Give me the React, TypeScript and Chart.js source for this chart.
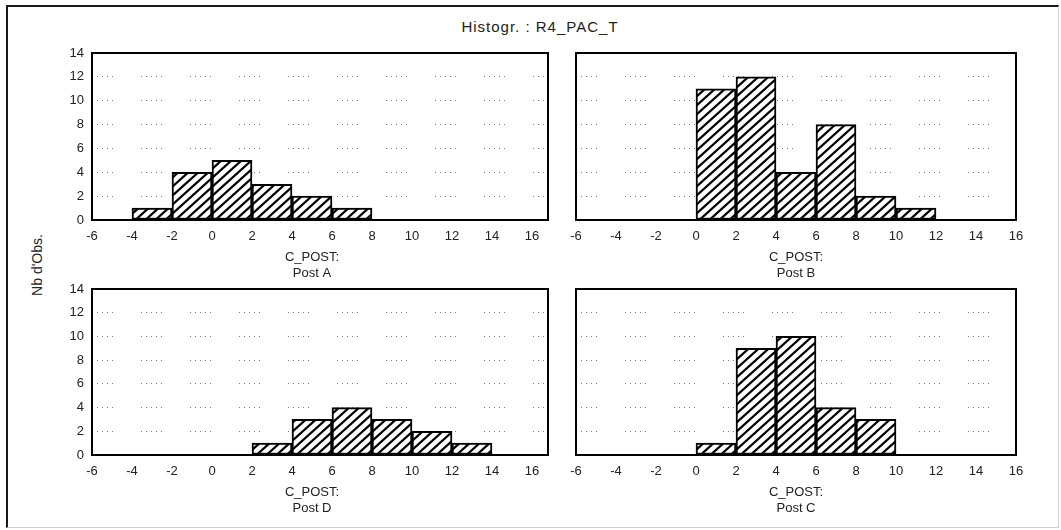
import React, { useEffect, useRef } from "react";
import { Chart, registerables } from "chart.js";

Chart.register(...registerables);

// ---------- data ----------
const CHART_TITLE = "Histogr. : R4_PAC_T";
const Y_AXIS_LABEL = "Nb d'Obs.";
const X_VARIABLE = "C_POST:";
const X_TICKS = [-6, -4, -2, 0, 2, 4, 6, 8, 10, 12, 14, 16];
const Y_TICKS = [0, 2, 4, 6, 8, 10, 12, 14];
const BIN_WIDTH = 2;

const POST_A_BINS = [-4, -2, 0, 2, 4, 6];
const POST_A_COUNTS = [1, 4, 5, 3, 2, 1];
const POST_B_BINS = [0, 2, 4, 6, 8, 10];
const POST_B_COUNTS = [11, 12, 4, 8, 2, 1];
const POST_D_BINS = [2, 4, 6, 8, 10, 12];
const POST_D_COUNTS = [1, 3, 4, 3, 2, 1];
const POST_C_BINS = [0, 2, 4, 6, 8];
const POST_C_COUNTS = [1, 9, 10, 4, 3];

// ---------- layout / style ----------
const FONT = '"Liberation Sans", Arial, sans-serif';
const YW = 50; // y-axis width
const PT = 10; // top padding
const PR = 14; // right padding
const XH = 61; // x-axis height (ticks + title)

type PanelDef = {
  name: string;
  bins: number[];
  counts: number[];
  left: number;
  top: number;
  right: number;
  bottom: number;
  xMax: number;
  showY: boolean;
};

const PANELS: PanelDef[] = [
  { name: "Post A", bins: POST_A_BINS, counts: POST_A_COUNTS, left: 92, top: 53, right: 548, bottom: 220, xMax: 16.8, showY: true },
  { name: "Post B", bins: POST_B_BINS, counts: POST_B_COUNTS, left: 576, top: 53, right: 1016, bottom: 220, xMax: 16, showY: false },
  { name: "Post D", bins: POST_D_BINS, counts: POST_D_COUNTS, left: 92, top: 289, right: 548, bottom: 455, xMax: 16.8, showY: true },
  { name: "Post C", bins: POST_C_BINS, counts: POST_C_COUNTS, left: 576, top: 289, right: 1016, bottom: 455, xMax: 16, showY: false },
];

function makeHatch(ctx: CanvasRenderingContext2D) {
  const w = 10;
  const h = 9;
  const c = document.createElement("canvas");
  c.width = w;
  c.height = h;
  const g = c.getContext("2d")!;
  g.fillStyle = "#fff";
  g.fillRect(0, 0, w, h);
  g.strokeStyle = "#000";
  g.lineWidth = 2.2;
  for (const dy of [-h, 0, h]) {
    g.beginPath();
    g.moveTo(-w, 2 * h + dy);
    g.lineTo(2 * w, -h + dy);
    g.stroke();
  }
  return ctx.createPattern(c, "repeat")!;
}

const framePlugin = {
  id: "frame",
  afterDraw(chart: any) {
    const { ctx, chartArea } = chart;
    const { left, top, right, bottom } = chartArea;
    ctx.save();
    ctx.strokeStyle = "#000";
    ctx.lineWidth = 2;
    ctx.strokeRect(left, top, right - left, bottom - top);
    ctx.restore();
  },
};

function Panel({ def }: { def: PanelDef }) {
  const ref = useRef<HTMLCanvasElement>(null);
  const width = YW + (def.right - def.left) + PR;
  const height = PT + (def.bottom - def.top) + XH;

  useEffect(() => {
    const canvas = ref.current!;
    const ctx = canvas.getContext("2d")!;
    const pattern = makeHatch(ctx);

    const titlePlugin = {
      id: "xtitle",
      afterDraw(chart: any) {
        const c = chart.ctx;
        const xs = chart.scales.x;
        const cx = xs.getPixelForValue((X_TICKS[0] + X_TICKS[X_TICKS.length - 1]) / 2);
        const b = chart.chartArea.bottom;
        c.save();
        c.fillStyle = "#222";
        c.font = `13px ${FONT}`;
        c.textAlign = "center";
        c.textBaseline = "middle";
        c.fillText(X_VARIABLE, cx, b + 37);
        c.fillText(def.name, cx, b + 53);
        c.restore();
      },
    };

    const chart = new Chart(canvas, {
      type: "bar",
      data: {
        datasets: [
          {
            data: def.bins.map((b, i) => ({ x: b + BIN_WIDTH / 2, y: def.counts[i] })),
            backgroundColor: pattern,
            borderColor: "#000",
            borderWidth: 2,
            borderSkipped: false,
            barPercentage: 1,
            categoryPercentage: 1,
          } as any,
        ],
      },
      options: {
        animation: false,
        responsive: false,
        maintainAspectRatio: false,
        layout: { padding: { top: PT, right: PR, left: 0, bottom: 0 }, autoPadding: false } as any,
        plugins: {
          legend: { display: false },
          tooltip: { enabled: false },
          title: { display: false },
        },
        scales: {
          x: {
            type: "linear",
            min: X_TICKS[0],
            max: def.xMax,
            offset: false,
            grid: { display: false },
            border: { display: false },
            ticks: {
              autoSkip: false,
              maxRotation: 0,
              minRotation: 0,
              padding: 1,
              color: "#222",
              font: { family: FONT, size: 13 },
            },
            afterBuildTicks: (s: any) => {
              s.ticks = X_TICKS.map((v) => ({ value: v }));
            },
            afterFit: (s: any) => {
              s.height = XH;
              s.paddingLeft = 0;
              s.paddingRight = 0;
            },
          },
          y: {
            type: "linear",
            min: Y_TICKS[0],
            max: Y_TICKS[Y_TICKS.length - 1],
            grid: {
              color: "#7a7a7a",
              lineWidth: 1,
              drawTicks: false,
            },
            border: { display: false, dash: [1, 4, 1, 4, 1, 4, 1, 4, 1, 28] },
            ticks: {
              display: def.showY,
              padding: 8,
              color: "#222",
              font: { family: FONT, size: 13 },
            },
            afterBuildTicks: (s: any) => {
              s.ticks = Y_TICKS.map((v) => ({ value: v }));
            },
            afterFit: (s: any) => {
              s.width = YW;
              s.paddingTop = 0;
              s.paddingBottom = 0;
            },
          },
        },
      } as any,
      plugins: [framePlugin, titlePlugin],
    });
    return () => chart.destroy();
  }, [def]);

  return (
    <canvas
      ref={ref}
      width={width}
      height={height}
      style={{
        position: "absolute",
        left: def.left - YW,
        top: def.top - PT,
        width,
        height,
      }}
    />
  );
}

export default function App() {
  return (
    <div
      style={{
        position: "fixed",
        left: 0,
        top: 0,
        width: 1061,
        height: 530,
        background: "#fff",
        overflow: "hidden",
        fontFamily: FONT,
      }}
    >
      <div
        style={{
          position: "absolute",
          left: 6,
          top: 5,
          width: 1050,
          height: 520,
          borderLeft: "2px solid #1a1a1a",
          borderTop: "2px solid #1a1a1a",
          borderRight: "1px solid #d0d0d0",
          borderBottom: "1px solid #d0d0d0",
        }}
      />
      <div
        style={{
          position: "absolute",
          left: 340,
          width: 400,
          top: 18,
          textAlign: "center",
          fontSize: 15,
          letterSpacing: 1,
          color: "#222",
          lineHeight: "18px",
        }}
      >
        {CHART_TITLE}
      </div>
      <div
        style={{
          position: "absolute",
          left: 37,
          top: 265,
          transform: "translate(-50%, -50%) rotate(-90deg)",
          fontSize: 14,
          color: "#222",
          whiteSpace: "nowrap",
        }}
      >
        {Y_AXIS_LABEL}
      </div>
      {PANELS.map((p) => (
        <Panel key={p.name} def={p} />
      ))}
    </div>
  );
}
